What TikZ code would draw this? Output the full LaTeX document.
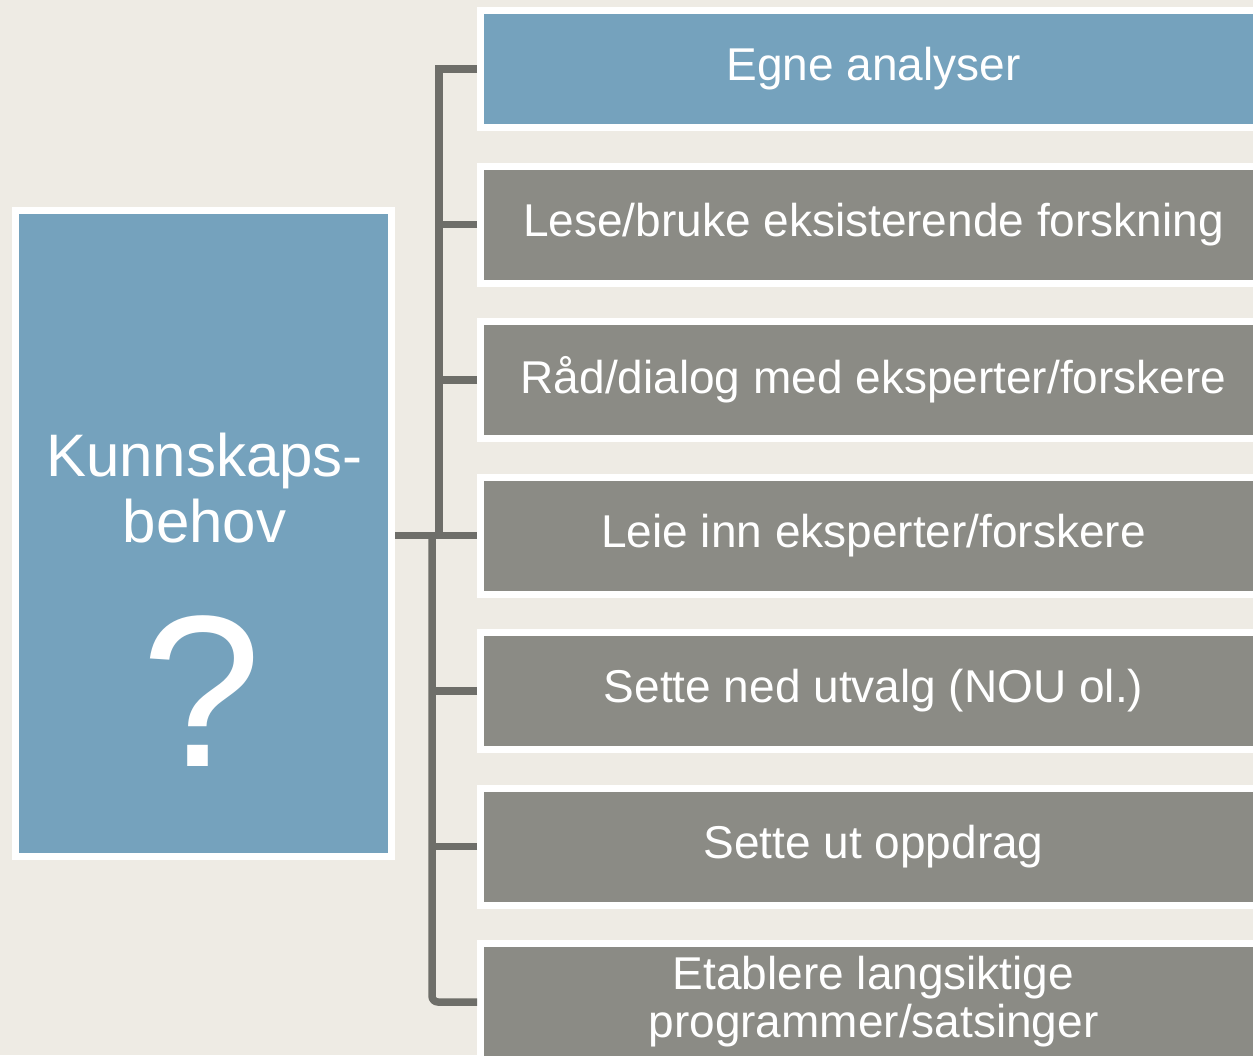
\documentclass[tikz,border=0pt]{standalone}
\usepackage{fontspec}
\setmainfont{Liberation Sans}
\definecolor{bg}{RGB}{238,235,228}
\definecolor{kblue}{RGB}{117,162,189}
\definecolor{kgray}{RGB}{139,139,133}
\definecolor{kline}{RGB}{110,110,105}
\begin{document}
\begin{tikzpicture}[x=1pt,y=-1pt,
  rbox/.style={draw=white,line width=7pt,minimum width=786pt,minimum height=117pt,inner sep=0pt,text=white,font=\fontsize{46}{48}\selectfont,align=center,fill=kgray},
  conn/.style={draw=kline,line width=7.5pt}]
\fill[bg] (0,0) rectangle (1253,1055);
\useasboundingbox (0,0) rectangle (1253,1055);
\node[draw=white,line width=7pt,fill=kblue,minimum width=376pt,minimum height=646pt,inner sep=0pt] (kb) at (203.5,533.5) {};
\node[text=white,font=\fontsize{60}{66}\selectfont,align=center,inner sep=0pt] (kt) at (204.5,488) {Kunnskaps-\\behov};
\node[text=white,font=\fontsize{216}{216}\selectfont,inner sep=0pt] (qm) at (202,691) {?};
\node[rbox,fill=kblue] (b1) at (873.5,69) {Egne analyser};
\node[rbox] (b2) at (873.5,224.5) {Lese/bruke eksisterende forskning};
\node[rbox] (b3) at (873.5,380) {Råd/dialog med eksperter/forskere};
\node[rbox] (b4) at (873.5,535.5) {Leie inn eksperter/forskere};
\node[rbox] (b5) at (873.5,691) {Sette ned utvalg (NOU ol.)};
\node[rbox] (b6) at (873.5,846.5) {Sette ut oppdrag};
\node[rbox] (b7) at (873.5,1002) {Etablere langsiktige\\programmer/satsinger};
\coordinate (ja) at (439,535.5);
\coordinate (jb) at (432,535.5);
\draw[conn] (b1.west) -| (ja);
\draw[conn] (b2.west) -- (b2.west -| ja);
\draw[conn] (b3.west) -- (b3.west -| ja);
\draw[conn] (kb.east |- b4.west) -- (b4.west);
\draw[conn,rounded corners=6pt] (jb) |- (b7.west);
\draw[conn] (b5.west) -- (b5.west -| jb);
\draw[conn] (b6.west) -- (b6.west -| jb);
\end{tikzpicture}
\end{document}
